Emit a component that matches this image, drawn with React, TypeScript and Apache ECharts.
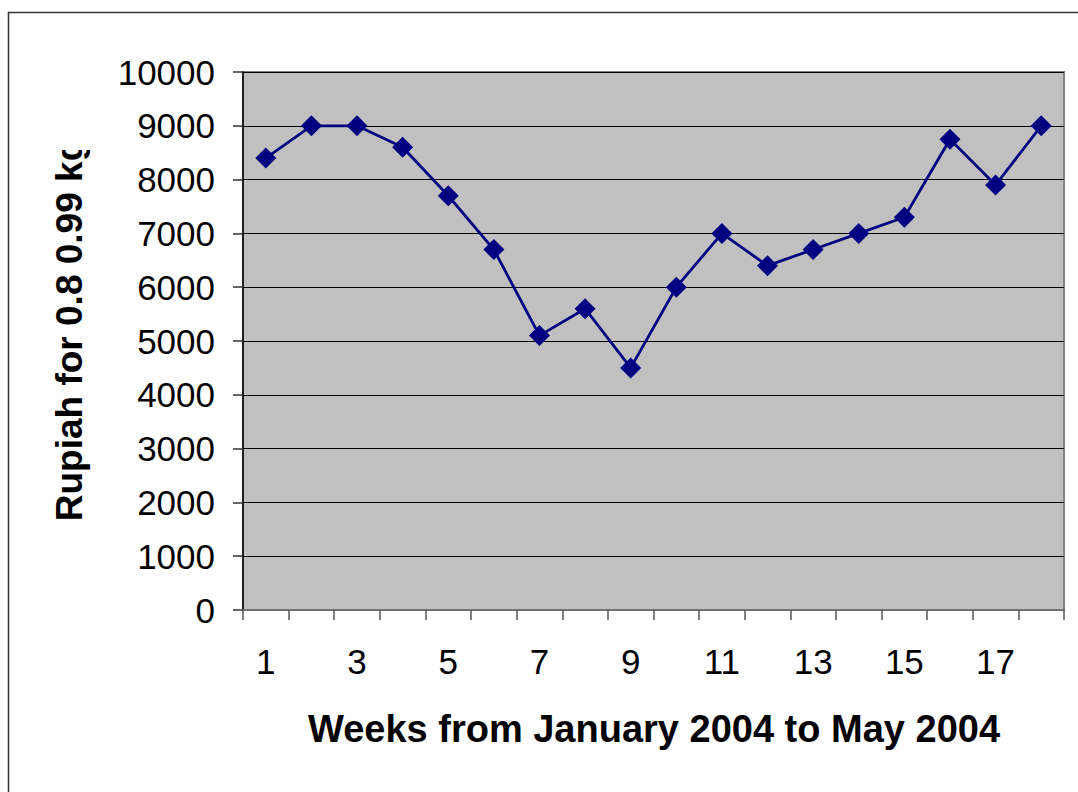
import React, { useEffect, useRef } from "react";
import * as echarts from "echarts";

const weeks = ["1","2","3","4","5","6","7","8","9","10","11","12","13","14","15","16","17","18"];
const rupiah = [8400, 9000, 9000, 8600, 7700, 6700, 5100, 5600, 4500, 6000, 7000, 6400, 6700, 7000, 7300, 8750, 7900, 9000];
const yTitle = "Rupiah for 0.8 0.99 kg";
const xTitle = "Weeks from January 2004 to May 2004";

export default function App() {
  const ref = useRef<HTMLDivElement>(null);
  useEffect(() => {
    if (!ref.current) return;
    const chart = echarts.init(ref.current, null, { renderer: "svg" });
    const font = "'Liberation Sans', Arial, sans-serif";
    chart.setOption({
      animation: false,
      backgroundColor: "#ffffff",
      grid: { left: 243, top: 72, right: 14, bottom: 182, show: true, backgroundColor: "#c0c0c0", borderColor: "#808080", borderWidth: 2 },
      xAxis: {
        type: "category",
        data: weeks,
        boundaryGap: true,
        axisLine: { show: true, lineStyle: { color: "#707070", width: 2 } },
        axisTick: { show: true, interval: 0, length: 10, lineStyle: { color: "#555", width: 1.5 } },
        axisLabel: { interval: 1, margin: 34, fontSize: 35, color: "#000", fontFamily: font },
        splitLine: { show: false },
      },
      yAxis: {
        type: "value",
        min: 0,
        max: 10000,
        interval: 1000,
        axisLine: { show: true, lineStyle: { color: "#000", width: 1.5 } },
        axisTick: { show: true, length: 10, lineStyle: { color: "#333", width: 1.5 } },
        axisLabel: { margin: 28, fontSize: 35, color: "#000", fontFamily: font, formatter: (v: number) => String(v) },
        splitLine: { show: true, lineStyle: { color: "#000", width: 1.2 } },
      },
      series: [
        {
          type: "line",
          data: rupiah,
          symbol: "diamond",
          symbolSize: 21,
          itemStyle: { color: "#000080" },
          lineStyle: { color: "#000080", width: 2.8 },
        },
      ],
      graphic: [
        {
          type: "rect",
          z: 0,
          silent: true,
          shape: { x: 8.5, y: 12.5, width: 1200, height: 1000 },
          style: { fill: "none", stroke: "#333", lineWidth: 1.5 },
        },
        {
          type: "text",
          z: 50,
          x: 69,
          y: 330,
          rotation: Math.PI / 2,
          style: { text: yTitle, fontSize: 37, fontWeight: "bold", fontFamily: font, fill: "#000", align: "center", verticalAlign: "middle" },
        },
        {
          type: "rect",
          z: 60,
          silent: true,
          shape: { x: 40, y: 90, width: 60, height: 60 },
          style: { fill: "#ffffff" },
        },
        {
          type: "text",
          z: 50,
          x: 654,
          y: 729,
          style: { text: xTitle, fontSize: 38, fontWeight: "bold", fontFamily: font, fill: "#000", align: "center", verticalAlign: "middle" },
        },
      ],
    });
    return () => chart.dispose();
  }, []);
  return <div ref={ref} style={{ position: "absolute", left: 0, top: 0, width: 1078, height: 792 }} />;
}
